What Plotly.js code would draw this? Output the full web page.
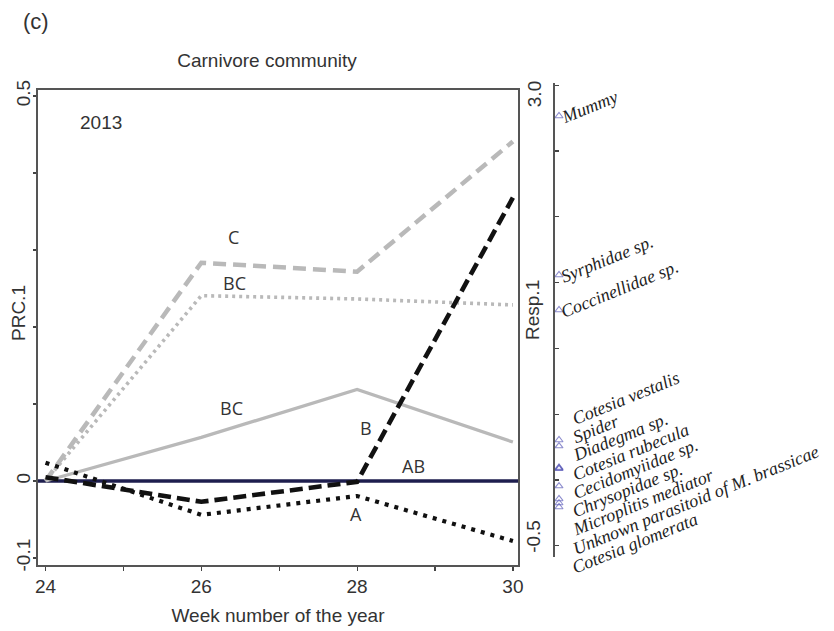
<!DOCTYPE html>
<html>
<head>
<meta charset="utf-8">
<script src="https://cdn.plot.ly/plotly-3.0.1.min.js"></script>
<style>html,body{margin:0;padding:0;background:#fff;}#chart{width:834px;height:631px;}</style>
</head>
<body>
<div id="chart"></div>
<script>
// ---------- data ----------
const weeks = [24, 26, 28, 30];
const xTickVals = [24, 25, 26, 27, 28, 29, 30];
const xTickText = ['24', '', '26', '', '28', '', '30'];
const yTickVals = [-0.1, 0, 0.1, 0.2, 0.3, 0.4, 0.5];
const yTickText = ['-0.1', '0', '', '', '', '', '0.5'];
const respTickVals = [-0.5, 0, 0.5, 1, 1.5, 2, 2.5, 3];
const respTickText = ['-0.5', '', '', '', '', '', '', '3.0'];

const prcLightDashed = [0, 0.2835, 0.2718, 0.441];
const prcLightDotted = [0, 0.2407, 0.2364, 0.2287];
const prcLightSolid  = [0, 0.0566, 0.119, 0.0506];
const prcBlackDashed = [0.005, -0.027, -0.001, 0.368];
const prcBlackDotted = [0.0238, -0.044, -0.0195, -0.078];
const prcControl     = [0, 0, 0, 0];

const groupLetters = ['C', 'BC', 'BC', 'B', 'A', 'AB'];
const letterWeek   = [26.41, 26.43, 26.39, 28.11, 27.99, 28.72];
const letterPRC    = [0.317, 0.257, 0.095, 0.069, -0.043, 0.0195];

const species = ['Mummy', 'Syrphidae sp.', 'Coccinellidae sp.', 'Cotesia vestalis', 'Spider',
  'Diadegma sp.', 'Cotesia rubecula', 'Cecidomyiidae sp.', 'Chrysopidae sp.',
  'Microplitis mediator', 'Unknown parasitoid of M. brassicae', 'Cotesia glomerata'];
const speciesScores = [2.766, 1.558, 1.292, 0.304, 0.258, 0.095, 0.09, 0.085, -0.046, -0.144, -0.175, -0.205];

// ---------- styles / geometry ----------
const SANS = 'Liberation Sans, Arial, sans-serif';
const TXT = '#333333';
const LIGHT = '#b9b9b9';
const DARK = '#111111';

const W = 834, H = 631;
const M = {l: 38, r: 34, t: 80, b: 66};
const PW = W - M.l - M.r, PH = H - M.t - M.b;
const px = x => (x - M.l) / PW;       // paper x from page pixel
const py = y => (H - M.b - y) / PH;   // paper y from page pixel

const Y2_DOM_PX = [557, 83];          // bottom, top of the response axis (page px)
const Y2_RANGE = [-0.5851, 3.0167];
const y2Px = v => Y2_DOM_PX[0] - (v - Y2_RANGE[0]) / (Y2_RANGE[1] - Y2_RANGE[0]) * (Y2_DOM_PX[0] - Y2_DOM_PX[1]);

function line(y, color, width, dash, name) {
  return {x: weeks, y: y, type: 'scatter', mode: 'lines', name: name,
    line: {color: color, width: width, dash: dash}, hoverinfo: 'skip', xaxis: 'x', yaxis: 'y'};
}

const traces = [
  line(prcLightSolid, LIGHT, 3.3, 'solid', 'light solid'),
  line(prcLightDotted, LIGHT, 3.6, '3px,4px', 'light dotted'),
  line(prcLightDashed, LIGHT, 4.5, '13px,7px', 'light dashed'),
  line(prcBlackDotted, DARK, 4.2, '4px,6px', 'black dotted'),
  line(prcBlackDashed, DARK, 4.6, '13px,6px', 'black dashed'),
  {
    x: speciesScores.map(() => 4), y: speciesScores, type: 'scatter', mode: 'markers',
    xaxis: 'x2', yaxis: 'y2', name: 'species', hoverinfo: 'skip',
    marker: {symbol: 'triangle-up-open', size: 7, color: 'rgba(80,80,180,0.65)', line: {width: 1.1}}
  }
];

const annotations = [];
// group letters
groupLetters.forEach((t, i) => annotations.push({
  text: t, x: letterWeek[i], y: letterPRC[i], xref: 'x', yref: 'y', showarrow: false,
  xanchor: 'center', yanchor: 'middle',
  font: {family: 'Open Sans, Noto Sans, sans-serif', size: 18, color: TXT}
}));
// species labels: first three beside their scores, the rest stacked (linestack-like)
const STACK_FIRST_PX = 431, STACK_STEP_PX = 18.6;
species.forEach((s, i) => {
  const stacked = i >= 3;
  const yPix = stacked ? STACK_FIRST_PX + (i - 3) * STACK_STEP_PX : y2Px(speciesScores[i]) + 14;
  annotations.push({
    text: s, xref: 'paper', yref: 'paper',
    x: px(stacked ? 567 : 555.5), y: py(yPix),
    xanchor: 'left', yanchor: 'bottom', textangle: -22, showarrow: false,
    font: {family: 'Liberation Serif, Times New Roman, serif', style: 'italic', size: 18, color: '#222'}
  });
});
// labels of the response axis (drawn slightly inside the end ticks, as in the figure)
respTickVals.forEach((v, i) => {
  if (!respTickText[i]) return;
  const inward = v > 1 ? 9 : -9;
  annotations.push({text: respTickText[i], xref: 'paper', yref: 'paper', x: px(534), y: py(y2Px(v) + inward),
    xanchor: 'center', yanchor: 'middle', textangle: -90, showarrow: false,
    font: {family: SANS, size: 19, color: TXT}});
});
// other texts
const ctr = {xanchor: 'center', yanchor: 'middle', showarrow: false, xref: 'paper', yref: 'paper'};
annotations.push(
  Object.assign({text: '(c)', x: px(36), y: py(22), font: {family: SANS, size: 22, color: TXT}}, ctr),
  Object.assign({text: '2013', x: px(100.5), y: py(122), font: {family: SANS, size: 19, color: TXT}}, ctr),
  Object.assign({text: 'PRC.1', x: px(18), y: py(313), textangle: -90, font: {family: SANS, size: 19, color: TXT}}, ctr),
  Object.assign({text: 'Resp.1', x: px(532), y: py(310), textangle: -90, font: {family: SANS, size: 19, color: TXT}}, ctr)
);

const axisFont = {family: SANS, size: 19, color: TXT};

const layout = {
  width: W, height: H, margin: M, showlegend: false,
  paper_bgcolor: '#fff', plot_bgcolor: '#fff',
  font: {family: SANS, color: TXT},
  title: {text: 'Carnivore community', xref: 'container', yref: 'container',
    x: 267 / W, y: 1 - 60 / H, xanchor: 'center', yanchor: 'middle',
    font: {family: SANS, size: 19, color: TXT}},
  xaxis: {
    domain: [0, (518 - M.l) / PW], range: [23.9037, 30.0655],
    tickmode: 'array', tickvals: xTickVals, ticktext: xTickText,
    ticks: 'outside', ticklen: 4, tickwidth: 1.2, tickcolor: '#444',
    showline: true, linecolor: '#555', linewidth: 1.6, mirror: true,
    showgrid: false, zeroline: false, tickfont: axisFont,
    title: {text: 'Week number of the year', font: axisFont, standoff: 12}
  },
  yaxis: {
    domain: [0, py(90)], range: [-0.10909, 0.50779],
    tickmode: 'array', tickvals: yTickVals, ticktext: yTickText, tickangle: -90,
    ticks: 'outside', ticklen: 3, tickwidth: 1.2, tickcolor: '#444', ticklabelstandoff: -4,
    showline: true, linecolor: '#555', linewidth: 1.6, mirror: true,
    showgrid: false, zeroline: false, tickfont: axisFont
  },
  xaxis2: {domain: [px(555), 1], range: [0, 245], visible: false, anchor: 'y2', fixedrange: true},
  yaxis2: {
    domain: [py(Y2_DOM_PX[0]), py(Y2_DOM_PX[1])], range: Y2_RANGE, anchor: 'x2', side: 'left',
    tickmode: 'array', tickvals: respTickVals, ticktext: respTickText, showticklabels: false,
    ticks: 'inside', ticklen: 4, tickwidth: 1.2, tickcolor: '#444',
    showline: true, linecolor: '#555', linewidth: 1.6,
    showgrid: false, zeroline: false
  },
  shapes: [{type: 'line', xref: 'x domain', yref: 'y', x0: 0, x1: 1, y0: prcControl[0], y1: prcControl[0],
    line: {color: '#1e1e4e', width: 3.5}, layer: 'below'}],
  annotations: annotations
};

Plotly.newPlot('chart', traces, layout, {staticPlot: true, displayModeBar: false});
</script>
</body>
</html>
